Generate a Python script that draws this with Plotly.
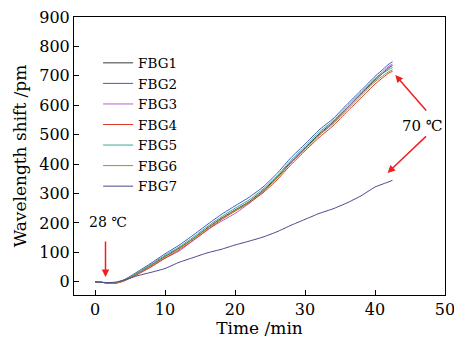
import plotly.graph_objects as go

time = [0, 1, 2, 3, 4, 5, 6, 8, 10, 12, 14, 16, 18, 20, 22, 24, 26, 28, 30, 32, 34, 36, 38, 40, 42, 42.5]

fbg1 = [0, -2, -5, -4, 3, 15, 28, 56, 86, 114, 146, 182, 215, 244, 272, 310, 355, 408, 455, 502, 542, 590, 638, 685, 728, 735]
fbg2 = [0, -2, -4, -3, 5, 18, 33, 63, 95, 124, 158, 194, 228, 258, 287, 322, 368, 422, 468, 516, 554, 603, 650, 698, 740, 748]
fbg3 = [0, -2, -5, -4, 2, 13, 25, 52, 80, 104, 140, 176, 205, 232, 266, 306, 352, 405, 452, 498, 540, 590, 640, 690, 733, 740]
fbg4 = [0, -2, -5, -5, 1, 12, 24, 50, 80, 108, 140, 175, 210, 240, 268, 302, 346, 398, 445, 490, 530, 578, 625, 672, 710, 715]
fbg5 = [0, -2, -4, -3, 4, 16, 30, 59, 90, 118, 151, 187, 220, 250, 278, 315, 360, 413, 460, 508, 547, 596, 643, 690, 722, 728]
fbg6 = [0, -2, -5, -4, 3, 14, 27, 55, 84, 112, 145, 180, 213, 242, 270, 307, 352, 404, 450, 497, 537, 585, 633, 680, 715, 720]
fbg7 = [0, -2, -3, -1, 5, 12, 20, 32, 45, 66, 82, 98, 110, 125, 138, 152, 170, 192, 212, 232, 248, 268, 292, 322, 340, 345]

names = ["FBG1", "FBG2", "FBG3", "FBG4", "FBG5", "FBG6", "FBG7"]
series = [fbg1, fbg2, fbg3, fbg4, fbg5, fbg6, fbg7]
colors = ["#3a3a3a", "#3c5cc8", "#b060c8", "#e03a28", "#3aa896", "#9a9028", "#48488e"]

x_ticks = [0, 10, 20, 30, 40, 50]
y_ticks = [0, 100, 200, 300, 400, 500, 600, 700, 800, 900]

FONT = "DejaVu Serif"

fig = go.Figure()
for n, s, c in zip(names, series, colors):
    fig.add_trace(go.Scatter(x=time, y=s, name=n, mode="lines",
                             line=dict(color=c, width=1, shape="spline", smoothing=0.4)))

red = "#f02020"
fig.add_annotation(x=1.5, y=16, ax=1.5, ay=142, xref="x", yref="y", axref="x", ayref="y",
                   showarrow=True, arrowhead=2, arrowsize=1, arrowwidth=1.5, arrowcolor=red, text="")
fig.add_annotation(x=1.8, y=203, xref="x", yref="y", text="28 ℃", showarrow=False,
                   font=dict(family=FONT, size=14, color="#000"))
fig.add_annotation(x=46.8, y=530, xref="x", yref="y", text="70 ℃", showarrow=False,
                   font=dict(family=FONT, size=15, color="#000"))
fig.add_annotation(x=42.9, y=703, ax=47.5, ay=577, xref="x", yref="y", axref="x", ayref="y",
                   showarrow=True, arrowhead=2, arrowsize=1, arrowwidth=1.5, arrowcolor=red, text="")
fig.add_annotation(x=41.8, y=370, ax=47.5, ay=499, xref="x", yref="y", axref="x", ayref="y",
                   showarrow=True, arrowhead=2, arrowsize=1, arrowwidth=1.5, arrowcolor=red, text="")

fig.update_layout(
    width=454, height=338,
    margin=dict(l=74, r=9, t=17, b=43),
    paper_bgcolor="white", plot_bgcolor="white",
    font=dict(family=FONT, size=16, color="#000"),
    legend=dict(x=0.065, y=0.89, xanchor="left", yanchor="top", bgcolor="rgba(0,0,0,0)",
                font=dict(family=FONT, size=13.5), tracegroupgap=0),
    xaxis=dict(range=[-3, 50], tickvals=x_ticks, ticks="inside", ticklen=5, tickcolor="#000",
               showline=True, linecolor="#000", linewidth=1, mirror=True, showgrid=False, zeroline=False,
               automargin=False, ticklabeloverflow="allow",
               title=dict(text="Time /min", standoff=0, font=dict(size=17)), tickfont=dict(size=16)),
    yaxis=dict(range=[-45, 900], tickvals=y_ticks, ticks="inside", ticklen=5, tickcolor="#000",
               showline=True, linecolor="#000", linewidth=1, mirror=True, showgrid=False, zeroline=False,
               automargin=False, ticklabeloverflow="allow",
               title=dict(text="Wavelength shift /pm", standoff=8, font=dict(size=17)), tickfont=dict(size=16)),
)

fig.write_html("out.html", config={"displayModeBar": False},
               post_script="document.body.style.margin='0';document.body.style.padding='0';")
